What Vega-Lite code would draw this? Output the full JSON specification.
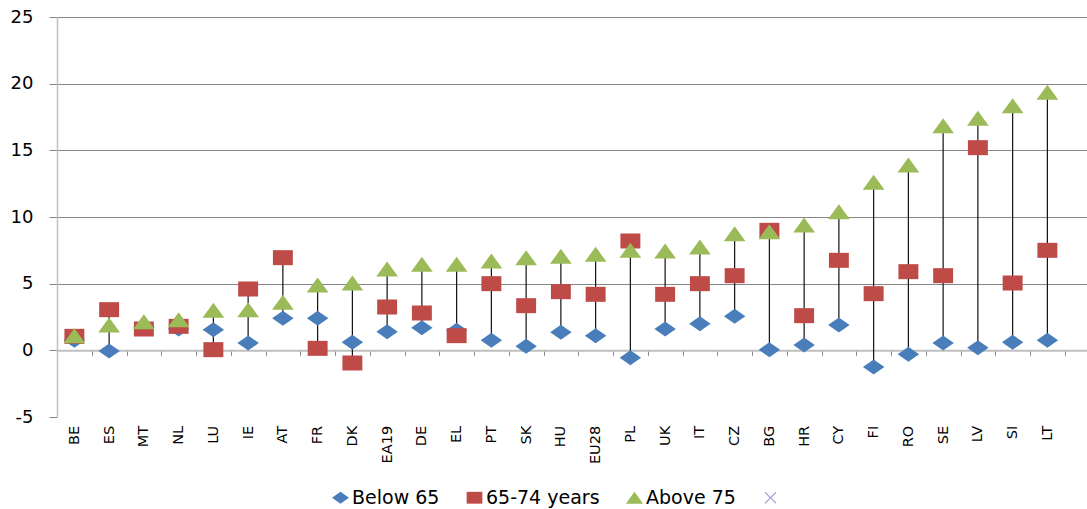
{
  "$schema": "https://vega.github.io/schema/vega-lite/v6.json",
  "width": 1030,
  "height": 400,
  "autosize": {"type": "none"},
  "padding": {"left": 57, "top": 17, "right": 0, "bottom": 92},
  "background": "white",
  "config": {"view": {"stroke": null}, "font": "DejaVu Sans"},
  "data": {
    "values": [
      {"c": "BE", "g": "Below 65", "v": 0.75},
      {"c": "ES", "g": "Below 65", "v": -0.05},
      {"c": "MT", "g": "Below 65", "v": 1.75},
      {"c": "NL", "g": "Below 65", "v": 1.6},
      {"c": "LU", "g": "Below 65", "v": 1.55},
      {"c": "IE", "g": "Below 65", "v": 0.55},
      {"c": "AT", "g": "Below 65", "v": 2.4},
      {"c": "FR", "g": "Below 65", "v": 2.4},
      {"c": "DK", "g": "Below 65", "v": 0.6},
      {"c": "EA19", "g": "Below 65", "v": 1.4},
      {"c": "DE", "g": "Below 65", "v": 1.7},
      {"c": "EL", "g": "Below 65", "v": 1.5},
      {"c": "PT", "g": "Below 65", "v": 0.75},
      {"c": "SK", "g": "Below 65", "v": 0.3},
      {"c": "HU", "g": "Below 65", "v": 1.35},
      {"c": "EU28", "g": "Below 65", "v": 1.1},
      {"c": "PL", "g": "Below 65", "v": -0.55},
      {"c": "UK", "g": "Below 65", "v": 1.6},
      {"c": "IT", "g": "Below 65", "v": 2.0},
      {"c": "CZ", "g": "Below 65", "v": 2.55},
      {"c": "BG", "g": "Below 65", "v": 0.05},
      {"c": "HR", "g": "Below 65", "v": 0.4},
      {"c": "CY", "g": "Below 65", "v": 1.9},
      {"c": "FI", "g": "Below 65", "v": -1.25},
      {"c": "RO", "g": "Below 65", "v": -0.3},
      {"c": "SE", "g": "Below 65", "v": 0.55},
      {"c": "LV", "g": "Below 65", "v": 0.2},
      {"c": "SI", "g": "Below 65", "v": 0.6},
      {"c": "LT", "g": "Below 65", "v": 0.75},
      {"c": "BE", "g": "65-74 years", "v": 1.05},
      {"c": "ES", "g": "65-74 years", "v": 3.05},
      {"c": "MT", "g": "65-74 years", "v": 1.6},
      {"c": "NL", "g": "65-74 years", "v": 1.8},
      {"c": "LU", "g": "65-74 years", "v": 0.05},
      {"c": "IE", "g": "65-74 years", "v": 4.6},
      {"c": "AT", "g": "65-74 years", "v": 6.95},
      {"c": "FR", "g": "65-74 years", "v": 0.15},
      {"c": "DK", "g": "65-74 years", "v": -0.95},
      {"c": "EA19", "g": "65-74 years", "v": 3.25},
      {"c": "DE", "g": "65-74 years", "v": 2.8},
      {"c": "EL", "g": "65-74 years", "v": 1.1},
      {"c": "PT", "g": "65-74 years", "v": 5.0},
      {"c": "SK", "g": "65-74 years", "v": 3.35},
      {"c": "HU", "g": "65-74 years", "v": 4.4},
      {"c": "EU28", "g": "65-74 years", "v": 4.2},
      {"c": "PL", "g": "65-74 years", "v": 8.2},
      {"c": "UK", "g": "65-74 years", "v": 4.2},
      {"c": "IT", "g": "65-74 years", "v": 5.0},
      {"c": "CZ", "g": "65-74 years", "v": 5.6},
      {"c": "BG", "g": "65-74 years", "v": 9.0},
      {"c": "HR", "g": "65-74 years", "v": 2.6},
      {"c": "CY", "g": "65-74 years", "v": 6.75},
      {"c": "FI", "g": "65-74 years", "v": 4.25},
      {"c": "RO", "g": "65-74 years", "v": 5.9},
      {"c": "SE", "g": "65-74 years", "v": 5.6},
      {"c": "LV", "g": "65-74 years", "v": 15.2},
      {"c": "SI", "g": "65-74 years", "v": 5.05},
      {"c": "LT", "g": "65-74 years", "v": 7.5},
      {"c": "BE", "g": "Above 75", "v": 1.1},
      {"c": "ES", "g": "Above 75", "v": 1.9},
      {"c": "MT", "g": "Above 75", "v": 2.15},
      {"c": "NL", "g": "Above 75", "v": 2.3},
      {"c": "LU", "g": "Above 75", "v": 3.0},
      {"c": "IE", "g": "Above 75", "v": 3.05},
      {"c": "AT", "g": "Above 75", "v": 3.6},
      {"c": "FR", "g": "Above 75", "v": 4.9},
      {"c": "DK", "g": "Above 75", "v": 5.05},
      {"c": "EA19", "g": "Above 75", "v": 6.1},
      {"c": "DE", "g": "Above 75", "v": 6.45},
      {"c": "EL", "g": "Above 75", "v": 6.45},
      {"c": "PT", "g": "Above 75", "v": 6.7},
      {"c": "SK", "g": "Above 75", "v": 6.95},
      {"c": "HU", "g": "Above 75", "v": 7.05},
      {"c": "EU28", "g": "Above 75", "v": 7.2},
      {"c": "PL", "g": "Above 75", "v": 7.5},
      {"c": "UK", "g": "Above 75", "v": 7.45},
      {"c": "IT", "g": "Above 75", "v": 7.75},
      {"c": "CZ", "g": "Above 75", "v": 8.75},
      {"c": "BG", "g": "Above 75", "v": 8.9},
      {"c": "HR", "g": "Above 75", "v": 9.4},
      {"c": "CY", "g": "Above 75", "v": 10.4},
      {"c": "FI", "g": "Above 75", "v": 12.6},
      {"c": "RO", "g": "Above 75", "v": 13.9},
      {"c": "SE", "g": "Above 75", "v": 16.85},
      {"c": "LV", "g": "Above 75", "v": 17.4},
      {"c": "SI", "g": "Above 75", "v": 18.35},
      {"c": "LT", "g": "Above 75", "v": 19.35}
    ]
  },
  "layer": [
    {
      "mark": {"type": "rule", "color": "#111111", "strokeWidth": 1.2},
      "encoding": {
        "x": {
          "field": "c", "type": "nominal",
          "scale": {
            "type": "band",
            "domain": ["BE","ES","MT","NL","LU","IE","AT","FR","DK","EA19","DE","EL","PT","SK","HU","EU28","PL","UK","IT","CZ","BG","HR","CY","FI","RO","SE","LV","SI","LT"],
            "paddingInner": 0, "paddingOuter": 0.32, "align": 0
          },
          "axis": {
            "title": null, "offset": -66.67, "domainColor": "#bfbfbf", "domainWidth": 2,
            "ticks": true, "tickBand": "extent", "tickSize": 5, "tickColor": "#868686", "tickWidth": 1,
            "labelAngle": -90, "labelPadding": 70, "labelFontSize": 14.5, "labelColor": "#000000", "grid": false
          }
        },
        "y": {
          "aggregate": "min", "field": "v", "type": "quantitative",
          "scale": {"domain": [-5, 25], "nice": false, "zero": false},
          "axis": {
            "title": null, "values": [-5, 0, 5, 10, 15, 20, 25],
            "labelExpr": "'' + datum.value",
            "labelFontSize": 18, "labelColor": "#000000", "labelPadding": 16,
            "tickSize": 8, "tickColor": "#868686",
            "domainColor": "#bfbfbf", "domainWidth": 1.5,
            "grid": true,
            "gridColor": {"condition": {"test": "datum.value <= 0", "value": "transparent"}, "value": "#868686"},
            "gridWidth": 1
          }
        },
        "y2": {"aggregate": "max", "field": "v"}
      }
    },
    {
      "mark": {"type": "point", "filled": true, "size": 225, "opacity": 1, "strokeWidth": 0},
      "encoding": {
        "x": {"field": "c", "type": "nominal"},
        "y": {"field": "v", "type": "quantitative"},
        "color": {
          "field": "g", "type": "nominal",
          "scale": {
            "domain": ["Below 65", "65-74 years", "Above 75", " "],
            "range": ["#4a7ebb", "#be4b48", "#9bbb59", "#a99cd4"]
          },
          "legend": {
            "title": null, "orient": "none", "direction": "horizontal",
            "legendX": 274, "legendY": 471,
            "labelFontSize": 19, "labelColor": "#000000", "symbolSize": 140,
            "columnPadding": 25, "labelOffset": 2, "symbolStrokeWidth": 0
          }
        },
        "shape": {
          "field": "g", "type": "nominal",
          "scale": {
            "domain": ["Below 65", "65-74 years", "Above 75", " "],
            "range": [
              "M-1.43,0L0,-1L1.43,0L0,1Z",
              "M-1.33,-1L1.33,-1L1.33,1L-1.33,1Z",
              "M0,-1L1.45,1L-1.45,1Z",
              "M-1,-0.86L-0.86,-1L0,-0.14L0.86,-1L1,-0.86L0.14,0L1,0.86L0.86,1L0,0.14L-0.86,1L-1,0.86L-0.14,0Z"
            ]
          },
          "legend": {
            "title": null, "orient": "none", "direction": "horizontal",
            "legendX": 274, "legendY": 471,
            "labelFontSize": 19, "labelColor": "#000000", "symbolSize": 140,
            "columnPadding": 25, "labelOffset": 2, "symbolStrokeWidth": 0
          }
        }
      }
    }
  ]
}
